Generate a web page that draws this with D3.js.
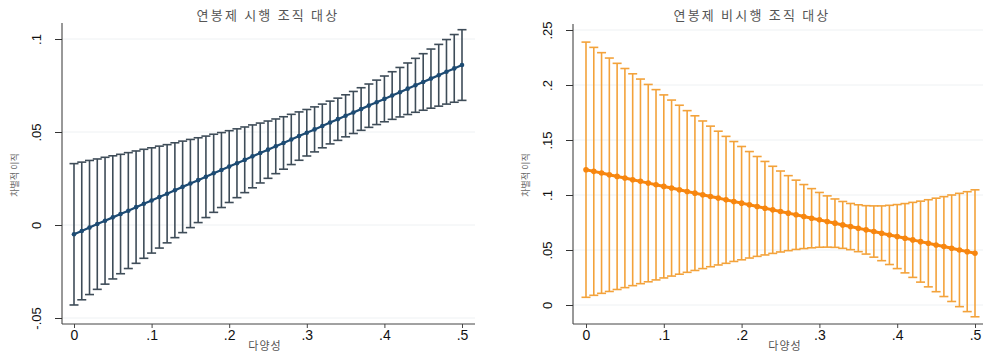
<!DOCTYPE html>
<html>
<head>
<meta charset="utf-8">
<script src="https://cdn.jsdelivr.net/npm/d3@7"></script>
<style>
  body { margin: 0; background: #fff; }
  svg { display: block; }
  text { font-family: "Liberation Sans", Arial, sans-serif; }
  .kr { font-family: "Noto Sans CJK KR", sans-serif; }
</style>
</head>
<body>
<div id="chart"></div>
<script>
// x values: 다양성 0 .. .5 by .01
const xs = d3.range(51).map(i => i / 100);

// left panel: 연봉제 시행 조직 대상
const leftMean = [-0.0050,-0.0032,-0.0014,0.0005,0.0023,0.0041,0.0059,0.0077,0.0096,0.0114,
  0.0132,0.0150,0.0168,0.0187,0.0205,0.0223,0.0241,0.0259,0.0278,0.0296,
  0.0314,0.0332,0.0350,0.0369,0.0387,0.0405,0.0423,0.0441,0.0460,0.0478,
  0.0496,0.0514,0.0532,0.0551,0.0569,0.0587,0.0605,0.0623,0.0642,0.0660,
  0.0678,0.0696,0.0714,0.0733,0.0751,0.0769,0.0787,0.0805,0.0824,0.0842,0.0860];
const leftLo = [-0.0430,-0.0402,-0.0374,-0.0346,-0.0318,-0.0290,-0.0262,-0.0234,-0.0206,-0.0179,
  -0.0151,-0.0124,-0.0096,-0.0068,-0.0041,-0.0014,0.0013,0.0040,0.0068,0.0094,
  0.0121,0.0147,0.0174,0.0200,0.0226,0.0251,0.0276,0.0300,0.0325,0.0348,
  0.0371,0.0393,0.0415,0.0436,0.0455,0.0474,0.0492,0.0509,0.0525,0.0540,
  0.0555,0.0568,0.0581,0.0594,0.0606,0.0617,0.0628,0.0639,0.0650,0.0660,0.0670];
const leftHi = [0.0330,0.0338,0.0347,0.0355,0.0364,0.0372,0.0380,0.0389,0.0398,0.0407,
  0.0415,0.0424,0.0432,0.0442,0.0451,0.0460,0.0469,0.0478,0.0488,0.0497,
  0.0507,0.0517,0.0527,0.0538,0.0548,0.0559,0.0570,0.0582,0.0595,0.0608,
  0.0621,0.0635,0.0650,0.0666,0.0682,0.0700,0.0718,0.0738,0.0758,0.0779,
  0.0801,0.0824,0.0847,0.0871,0.0896,0.0921,0.0946,0.0971,0.0997,0.1024,0.1050];

// right panel: 연봉제 비시행 조직 대상
const rightMean = [0.1230,0.1215,0.1200,0.1184,0.1169,0.1154,0.1139,0.1124,0.1108,0.1093,
  0.1078,0.1063,0.1048,0.1032,0.1017,0.1002,0.0987,0.0972,0.0956,0.0941,
  0.0926,0.0911,0.0896,0.0880,0.0865,0.0850,0.0835,0.0820,0.0804,0.0789,
  0.0774,0.0759,0.0744,0.0728,0.0713,0.0698,0.0683,0.0668,0.0652,0.0637,
  0.0622,0.0607,0.0592,0.0576,0.0561,0.0546,0.0531,0.0516,0.0500,0.0485,0.0470];
const rightLo = [0.0070,0.0088,0.0106,0.0123,0.0141,0.0158,0.0176,0.0194,0.0211,0.0228,
  0.0246,0.0263,0.0280,0.0297,0.0314,0.0331,0.0348,0.0364,0.0379,0.0396,
  0.0411,0.0427,0.0442,0.0455,0.0469,0.0482,0.0494,0.0505,0.0513,0.0520,
  0.0525,0.0526,0.0524,0.0515,0.0503,0.0485,0.0463,0.0435,0.0403,0.0368,
  0.0331,0.0292,0.0251,0.0208,0.0165,0.0121,0.0077,0.0032,-0.0015,-0.0060,-0.0107];
const rightHi = [0.2390,0.2342,0.2294,0.2245,0.2197,0.2150,0.2102,0.2054,0.2005,0.1958,
  0.1910,0.1863,0.1816,0.1767,0.1720,0.1673,0.1626,0.1580,0.1533,0.1486,
  0.1441,0.1395,0.1350,0.1305,0.1261,0.1218,0.1176,0.1135,0.1095,0.1058,
  0.1023,0.0992,0.0964,0.0941,0.0923,0.0911,0.0903,0.0901,0.0901,0.0906,
  0.0913,0.0922,0.0933,0.0944,0.0957,0.0971,0.0985,0.1000,0.1015,0.1030,0.1047];

const xTicks = [0, 0.1, 0.2, 0.3, 0.4, 0.5];
const xTickLabels = ["0", ".1", ".2", ".3", ".4", ".5"];
const leftYTicks = [-0.05, 0, 0.05, 0.1];
const leftYTickLabels = ["-.05", "0", ".05", ".1"];
const rightYTicks = [0, 0.05, 0.1, 0.15, 0.2, 0.25];
const rightYTickLabels = ["0", ".05", ".1", ".15", ".2", ".25"];

const svg = d3.select("#chart").append("svg")
  .attr("width", 983).attr("height", 352);

function panel(opt) {
  const g = svg.append("g");
  const x = d3.scaleLinear().domain([0, 0.5]).range(opt.xRange);
  const y = d3.scaleLinear().domain(opt.yDomain).range(opt.yRange);

  // faint grid
  g.selectAll("line.grid").data(opt.yTicks).enter().append("line")
    .attr("x1", opt.left).attr("x2", opt.right)
    .attr("y1", d => y(d)).attr("y2", d => y(d))
    .attr("stroke", "#eef1f3").attr("stroke-width", 1);

  // axes
  const yAxis = d3.axisLeft(y).tickValues(opt.yTicks)
    .tickFormat((d, i) => opt.yLabels[i]).tickSize(7).tickSizeOuter(0);
  const ya = g.append("g").attr("transform", `translate(${opt.left},0)`).call(yAxis);
  ya.select(".domain").attr("d", `M0,${opt.top}V${opt.bottom}`).attr("stroke", "#333");
  ya.selectAll(".tick line").attr("stroke", "#333");
  ya.selectAll(".tick text")
    .attr("transform", "rotate(-90)")
    .attr("x", 0).attr("y", -21)
    .attr("dy", "0")
    .attr("text-anchor", "middle")
    .attr("font-size", 13).attr("fill", "#111");

  const xAxis = d3.axisBottom(x).tickValues(xTicks)
    .tickFormat((d, i) => xTickLabels[i]).tickSize(4).tickSizeOuter(0);
  const xa = g.append("g").attr("transform", `translate(0,${opt.bottom})`).call(xAxis);
  xa.select(".domain").attr("d", `M${opt.left},0H${opt.right}`).attr("stroke", "#444");
  xa.selectAll(".tick line").attr("stroke", "#444");
  xa.selectAll(".tick text").attr("font-size", 14).attr("fill", "#111").attr("y", 6);
  ya.attr("font-family", null); xa.attr("font-family", null);

  // error bars
  const cap = 4.5;
  const bars = g.append("g").attr("stroke", opt.barColor).attr("stroke-width", 1.6);
  xs.forEach((v, i) => {
    const px = x(v);
    bars.append("line").attr("x1", px).attr("x2", px)
      .attr("y1", y(opt.lo[i])).attr("y2", y(opt.hi[i]));
    bars.append("line").attr("x1", px - cap).attr("x2", px + cap)
      .attr("y1", y(opt.lo[i])).attr("y2", y(opt.lo[i]));
    bars.append("line").attr("x1", px - cap).attr("x2", px + cap)
      .attr("y1", y(opt.hi[i])).attr("y2", y(opt.hi[i]));
  });

  // mean line and points
  const line = d3.line().x((d, i) => x(xs[i])).y(d => y(d));
  g.append("path").datum(opt.mean).attr("d", line)
    .attr("fill", "none").attr("stroke", opt.lineColor).attr("stroke-width", opt.lineWidth);
  g.selectAll("circle.pt").data(opt.mean).enter().append("circle")
    .attr("cx", (d, i) => x(xs[i])).attr("cy", d => y(d))
    .attr("r", opt.r).attr("fill", opt.lineColor);

  // titles
  g.append("text").attr("class", "kr")
    .attr("x", opt.titleX).attr("y", 20)
    .attr("text-anchor", "middle").attr("font-size", 13)
    .attr("letter-spacing", 2.2).attr("fill", "#555")
    .text(opt.title);
  g.append("text").attr("class", "kr")
    .attr("x", opt.xTitleX).attr("y", 350)
    .attr("text-anchor", "middle").attr("font-size", 11)
    .attr("letter-spacing", 1).attr("fill", "#555")
    .text("다양성");
  g.append("text").attr("class", "kr")
    .attr("transform", `translate(${opt.yTitleX},175) rotate(-90)`)
    .attr("text-anchor", "middle").attr("font-size", 9)
    .attr("fill", "#666")
    .text("차별적 이직");
}

panel({
  left: 62, right: 475, top: 23, bottom: 324,
  xRange: [74, 462], yDomain: [-0.05, 0.1], yRange: [318, 39],
  yTicks: leftYTicks, yLabels: leftYTickLabels,
  mean: leftMean, lo: leftLo, hi: leftHi,
  barColor: "#3e4c58", lineColor: "#1d4b73", lineWidth: 2.2, r: 2.3,
  title: "연봉제 시행 조직 대상", titleX: 268, xTitleX: 265, yTitleX: 18
});

panel({
  left: 573, right: 983, top: 24, bottom: 324,
  xRange: [586, 975], yDomain: [0, 0.25], yRange: [305, 30],
  yTicks: rightYTicks, yLabels: rightYTickLabels,
  mean: rightMean, lo: rightLo, hi: rightHi,
  barColor: "#f3a23a", lineColor: "#f7860f", lineWidth: 3, r: 2.8,
  title: "연봉제 비시행 조직 대상", titleX: 752, xTitleX: 785, yTitleX: 529
});
</script>
</body>
</html>
